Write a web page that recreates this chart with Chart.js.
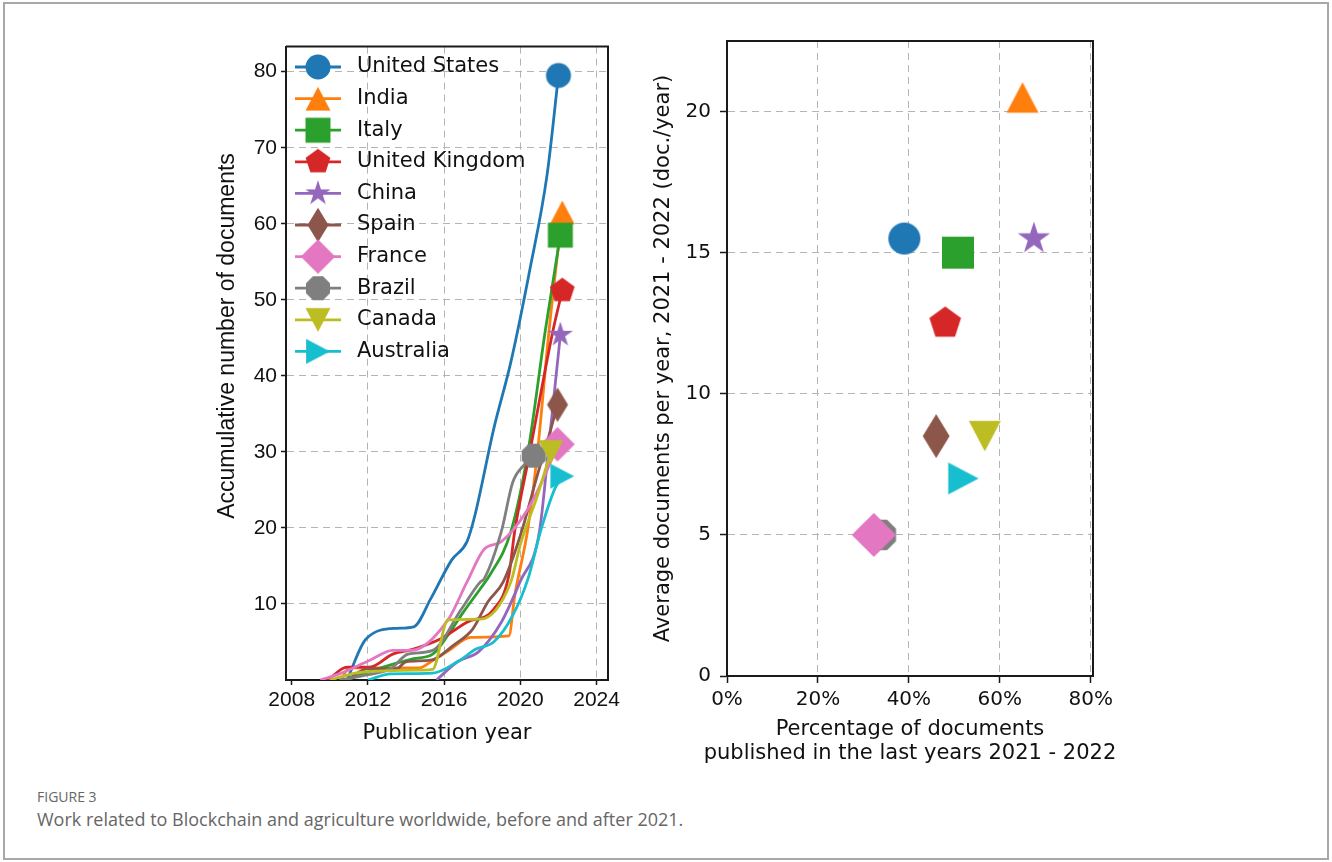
<!DOCTYPE html>
<html>
<head>
<meta charset="utf-8">
<script src="https://cdn.jsdelivr.net/npm/chart.js@4.4.1/dist/chart.umd.min.js"></script>
<style>
  body { margin: 0; background: #fff; width: 1332px; height: 862px; position: relative; overflow: hidden; }
  .frame { position: absolute; left: 3px; top: 2px; width: 1322px; height: 854px; border: 2px solid #a8a8a8; }
  #left-wrap { position: absolute; left: 200px; top: 30px; }
  #right-wrap { position: absolute; left: 630px; top: 20px; }
  .fig-label { position: absolute; left: 37px; top: 787px; font-family: "Open Sans"; font-size: 14px; color: #666; }
  .fig-text { position: absolute; left: 37px; top: 807px; font-family: "Open Sans"; font-size: 18px; color: #666; }
</style>
</head>
<body>
<div class="frame"></div>
<div id="left-wrap"><canvas id="line-chart" width="430" height="730"></canvas></div>
<div id="right-wrap"><canvas id="scatter-chart" width="500" height="760"></canvas></div>
<div class="fig-label">FIGURE 3</div>
<div class="fig-text">Work related to Blockchain and agriculture worldwide, before and after 2021.</div>
<script>
// Countries, in legend order
var countries = ["United States", "India", "Italy", "United Kingdom", "China",
  "Spain", "France", "Brazil", "Canada", "Australia"];

// Accumulative documents per country: [year, documents]
var usDocs = [[2010.9, 0], [2011.9, 5.4], [2013.5, 6.8], [2014.4, 7.0], [2015.3, 10.7], [2016.4, 15.8],
  [2017.2, 18.2], [2017.6, 21.5], [2018.6, 33], [2019.5, 41.8], [2020.5, 54], [2021.4, 66.4], [2022.0, 79.5]];
var indiaDocs = [[2010.6, 0], [2011.0, 1.6], [2014.7, 1.6], [2015.3, 2.4], [2016.2, 3.8], [2017.4, 5.6],
  [2019.4, 5.8], [2019.7, 11], [2020.4, 20], [2020.9, 30], [2021.5, 45.8], [2022.2, 61.5]];
var italyDocs = [[2010.9, 0], [2012.3, 1.3], [2014.4, 2.8], [2015.4, 3.4], [2016.2, 5.9], [2017.0, 8.9],
  [2017.9, 12], [2018.4, 13.8], [2019.5, 19.5], [2020.4, 30], [2021.3, 45.8], [2022.1, 58.5]];
var ukDocs = [[2009.9, 0], [2010.9, 1.7], [2012.1, 1.7], [2013.3, 3.4], [2014.3, 4.0], [2015.8, 5.4],
  [2017.2, 7.6], [2018.6, 9.3], [2019.4, 13.8], [2019.7, 19.5], [2020.5, 30], [2021.7, 45.8], [2022.2, 51.2]];
var chinaDocs = [[2015.6, 0], [2016.7, 2.4], [2017.8, 3.7], [2019.0, 7.6], [2020.0, 13], [2021.0, 19.5],
  [2021.5, 31], [2022.1, 45.4]];
var spainDocs = [[2010.9, 0], [2012.0, 1.5], [2013.5, 1.5], [2014.0, 2.4], [2015.3, 2.6], [2016.5, 4.6],
  [2017.5, 6.7], [2018.3, 10.3], [2019.1, 12.9], [2020.0, 19], [2020.9, 27], [2021.6, 33], [2021.95, 36.2]];
var franceDocs = [[2009.5, 0], [2010.5, 0.8], [2012.1, 2.6], [2013.3, 3.9], [2014.3, 3.9], [2016.2, 7.9],
  [2017.2, 12.9], [2018.1, 17.2], [2019.0, 18.2], [2020.4, 22.5], [2021.3, 27], [2021.95, 31]];
var brazilDocs = [[2010.5, 0], [2011.8, 0.6], [2013.2, 1.5], [2014.1, 3.4], [2015.4, 3.9], [2016.9, 9.3],
  [2017.9, 12.9], [2018.1, 13.3], [2019.0, 19.5], [2019.6, 26], [2020.2, 28.3], [2020.7, 29.5]];
var canadaDocs = [[2010.0, 0], [2011.6, 1.0], [2014.9, 1.3], [2015.4, 1.4], [2016.2, 7.9], [2017.9, 8.0],
  [2019.5, 12.9], [2020.0, 17.8], [2020.9, 24.3], [2021.6, 30]];
var australiaDocs = [[2012.0, 0], [2013.2, 0.8], [2015.4, 0.9], [2016.7, 2.4], [2017.7, 4.1], [2018.6, 5.0],
  [2019.6, 8.5], [2020.4, 13.3], [2021.1, 19.9], [2021.8, 25.1], [2022.2, 26.8]];

// Share of documents published 2021 - 2022, and average documents per year
var recentShare = [0.39, 0.65, 0.508, 0.48, 0.675, 0.46, 0.323, 0.338, 0.567, 0.52];
var docsPerYear = [15.5, 20.5, 15.0, 12.5, 15.5, 8.5, 5.0, 5.0, 8.5, 7.0];

// Tick labels
var yearTicks = [2008, 2012, 2016, 2020, 2024];
var docTicks = [10, 20, 30, 40, 50, 60, 70, 80];
var shareTicks = [0, 0.2, 0.4, 0.6, 0.8];
var rateTicks = [0, 5, 10, 15, 20];

var colors = ["#1f77b4", "#ff7f0e", "#2ca02c", "#d62728", "#9467bd",
  "#8c564b", "#e377c2", "#7f7f7f", "#bcbd22", "#17becf"];
var shapes = ["circle", "triangleUp", "square", "pentagon", "star",
  "thinDiamond", "diamond", "octagon", "triangleDown", "triangleRight"];

// Draw a matplotlib-like marker on a small canvas
function makeMarker(shape, color, s) {
  var dim = 2 * Math.ceil(s * 0.75) + 4;
  var c = document.createElement("canvas");
  c.width = dim;
  c.height = dim;
  var g = c.getContext("2d");
  g.translate(dim / 2, dim / 2);
  g.fillStyle = color;
  g.beginPath();
  var pts = [];
  var k, a, r;
  if (shape === "circle") {
    g.arc(0, 0, s / 2, 0, Math.PI * 2);
  } else {
    if (shape === "triangleUp") pts = [[0, -0.475 * s], [-0.5 * s, 0.475 * s], [0.5 * s, 0.475 * s]];
    if (shape === "triangleDown") pts = [[0, 0.475 * s], [-0.5 * s, -0.475 * s], [0.5 * s, -0.475 * s]];
    if (shape === "triangleRight") pts = [[0.475 * s, 0], [-0.475 * s, -0.5 * s], [-0.475 * s, 0.5 * s]];
    if (shape === "square") pts = [[-s / 2, -s / 2], [s / 2, -s / 2], [s / 2, s / 2], [-s / 2, s / 2]];
    if (shape === "diamond") pts = [[0, -0.69 * s], [0.69 * s, 0], [0, 0.69 * s], [-0.69 * s, 0]];
    if (shape === "thinDiamond") pts = [[0, -0.69 * s], [0.42 * s, 0], [0, 0.69 * s], [-0.42 * s, 0]];
    if (shape === "pentagon") {
      for (k = 0; k < 5; k++) {
        a = -Math.PI / 2 + k * Math.PI * 2 / 5;
        pts.push([0.52 * s * Math.cos(a), 0.52 * s * Math.sin(a)]);
      }
    }
    if (shape === "octagon") {
      for (k = 0; k < 8; k++) {
        a = Math.PI / 8 + k * Math.PI / 4;
        pts.push([0.52 * s * Math.cos(a), 0.52 * s * Math.sin(a)]);
      }
    }
    if (shape === "star") {
      for (k = 0; k < 10; k++) {
        a = -Math.PI / 2 + k * Math.PI / 5;
        r = k % 2 === 0 ? 0.53 * s : 0.53 * s * 0.382;
        pts.push([r * Math.cos(a), r * Math.sin(a)]);
      }
    }
    g.moveTo(pts[0][0], pts[0][1]);
    for (k = 1; k < pts.length; k++) g.lineTo(pts[k][0], pts[k][1]);
    g.closePath();
  }
  g.fill();
  return c;
}

var smallMarkers = shapes.map(function (sh, i) { return makeMarker(sh, colors[i], 25); });
var bigMarkers = shapes.map(function (sh, i) { return makeMarker(sh, colors[i], 32); });

var gridColor = "#b4b4b4";
var axisColor = "#1a1a1a";

// Top and right spines
var boxFrame = {
  id: "boxFrame",
  afterDraw: function (chart) {
    var a = chart.chartArea;
    var ctx = chart.ctx;
    ctx.save();
    ctx.strokeStyle = axisColor;
    ctx.lineWidth = 2;
    ctx.beginPath();
    ctx.moveTo(a.left, a.top);
    ctx.lineTo(a.right, a.top);
    ctx.lineTo(a.right, a.bottom);
    ctx.stroke();
    ctx.restore();
  }
};

// Legend with line and marker, inside the plot
var lineLegend = {
  id: "lineLegend",
  afterDatasetsDraw: function (chart) {
    var ctx = chart.ctx;
    ctx.save();
    ctx.font = '21px "DejaVu Sans"';
    ctx.textBaseline = "middle";
    ctx.fillStyle = "#111";
    countries.forEach(function (name, i) {
      var y = 37 + i * 31.6;
      ctx.strokeStyle = colors[i];
      ctx.lineWidth = 2.8;
      ctx.beginPath();
      ctx.moveTo(95, y);
      ctx.lineTo(141, y);
      ctx.stroke();
      var img = smallMarkers[i];
      ctx.drawImage(img, 118 - img.width / 2, y - img.height / 2);
      ctx.fillText(name, 157, y);
    });
    ctx.restore();
  }
};

// y title of the left chart sits a bit above the axis centre
var sideTitle = {
  id: "sideTitle",
  afterDraw: function (chart) {
    var ctx = chart.ctx;
    ctx.save();
    ctx.translate(28, 306);
    ctx.rotate(-Math.PI / 2);
    ctx.font = '23px "Liberation Sans"';
    ctx.fillStyle = "#111";
    ctx.textAlign = "center";
    ctx.textBaseline = "middle";
    ctx.fillText("Accumulative number of documents", 0, 0);
    ctx.restore();
  }
};

// Two-line x title of the right chart, drawn without width squeezing
var shareTitle = {
  id: "shareTitle",
  afterDraw: function (chart) {
    var ctx = chart.ctx;
    var a = chart.chartArea;
    var cx = (a.left + a.right) / 2;
    ctx.save();
    ctx.font = '21px "DejaVu Sans"';
    ctx.fillStyle = "#111";
    ctx.textAlign = "center";
    ctx.textBaseline = "middle";
    ctx.fillText("Percentage of documents", cx, 710);
    ctx.fillText("published in the last years 2021 - 2022", cx, 734);
    ctx.restore();
  }
};

document.addEventListener("DOMContentLoaded", function () {
  var lineChart = document.getElementById("line-chart").getContext("2d");
  var series = [usDocs, indiaDocs, italyDocs, ukDocs, chinaDocs,
    spainDocs, franceDocs, brazilDocs, canadaDocs, australiaDocs];

  new Chart(lineChart, {
    type: "line",
    data: {
      datasets: series.map(function (pairs, i) {
        return {
          label: countries[i],
          data: pairs.map(function (p) { return { x: p[0], y: p[1] }; }),
          borderColor: colors[i],
          backgroundColor: colors[i],
          borderWidth: 2.8,
          cubicInterpolationMode: "monotone",
          pointStyle: smallMarkers[i],
          pointRadius: function (ctx) { return ctx.dataIndex === pairs.length - 1 ? 13 : 0; },
          order: 10 - i,
        };
      }),
    },
    options: {
      responsive: false,
      animation: false,
      events: [],
      layout: { padding: { top: 16, right: 22, left: 0, bottom: 0 } },
      plugins: { legend: { display: false }, tooltip: { enabled: false } },
      scales: {
        x: {
          type: "linear",
          min: 2007.7,
          max: 2024.6,
          afterBuildTicks: function (scale) {
            scale.ticks = yearTicks.map(function (v) { return { value: v }; });
          },
          afterFit: function (scale) { scale.height = 80; },
          ticks: {
            callback: function (value) { return String(value); },
            font: { family: "Liberation Sans", size: 21 },
            color: "#111",
            padding: 3,
            maxRotation: 0,
            autoSkip: false,
          },
          grid: {
            color: function (c) { return c.tick && c.tick.value === 2008 ? "rgba(0,0,0,0)" : gridColor; },
            lineWidth: 1,
            tickColor: axisColor,
            tickLength: 5,
            tickWidth: 1.5,
          },
          border: { color: axisColor, width: 2, dash: [7, 5] },
          title: {
            display: true,
            text: "Publication year",
            font: { family: "DejaVu Sans", size: 21 },
            color: "#111",
            padding: { top: 0, bottom: 14 },
          },
        },
        y: {
          min: 0,
          max: 83.3,
          afterBuildTicks: function (scale) {
            scale.ticks = docTicks.map(function (v) { return { value: v }; });
          },
          afterFit: function (scale) { scale.width = 86; },
          ticks: {
            font: { family: "Liberation Sans", size: 21 },
            color: "#111",
            padding: 4,
          },
          grid: {
            color: gridColor,
            lineWidth: 1,
            tickColor: axisColor,
            tickLength: 5,
            tickWidth: 1.5,
          },
          border: { color: axisColor, width: 2, dash: [7, 5] },
        },
      },
    },
    plugins: [boxFrame, lineLegend, sideTitle],
  });
});

document.addEventListener("DOMContentLoaded", function () {
  var scatterChart = document.getElementById("scatter-chart").getContext("2d");

  new Chart(scatterChart, {
    type: "scatter",
    data: {
      datasets: countries.map(function (name, i) {
        return {
          label: name,
          data: [{ x: recentShare[i], y: docsPerYear[i] }],
          pointStyle: bigMarkers[i],
          pointRadius: 16,
          backgroundColor: colors[i],
          showLine: false,
        };
      }),
    },
    options: {
      responsive: false,
      animation: false,
      events: [],
      layout: { padding: { top: 21, right: 37, left: 0, bottom: 0 } },
      plugins: { legend: { display: false }, tooltip: { enabled: false } },
      scales: {
        x: {
          type: "linear",
          min: 0,
          max: 0.805,
          afterBuildTicks: function (scale) {
            scale.ticks = shareTicks.map(function (v) { return { value: v }; });
          },
          afterFit: function (scale) { scale.height = 104; },
          ticks: {
            callback: function (value) { return Math.round(value * 100) + "%"; },
            font: { family: "DejaVu Sans", size: 20 },
            color: "#111",
            padding: 5,
            maxRotation: 0,
            autoSkip: false,
          },
          grid: {
            color: gridColor,
            lineWidth: 1,
            tickColor: axisColor,
            tickLength: 7,
            tickWidth: 1.5,
          },
          border: { color: axisColor, width: 2, dash: [7, 5] },
        },
        y: {
          min: 0,
          max: 22.5,
          afterBuildTicks: function (scale) {
            scale.ticks = rateTicks.map(function (v) { return { value: v }; });
          },
          afterFit: function (scale) { scale.width = 97; },
          ticks: {
            font: { family: "DejaVu Sans", size: 20 },
            color: "#111",
            padding: 9,
          },
          grid: {
            color: gridColor,
            lineWidth: 1,
            tickColor: axisColor,
            tickLength: 7,
            tickWidth: 1.5,
          },
          border: { color: axisColor, width: 2, dash: [7, 5] },
          title: {
            display: true,
            text: "Average documents per year, 2021 - 2022 (doc./year)",
            font: { family: "DejaVu Sans", size: 21 },
            color: "#111",
            padding: { top: 21, bottom: 0 },
          },
        },
      },
    },
    plugins: [boxFrame, shareTitle],
  });
});
</script>
</body>
</html>
